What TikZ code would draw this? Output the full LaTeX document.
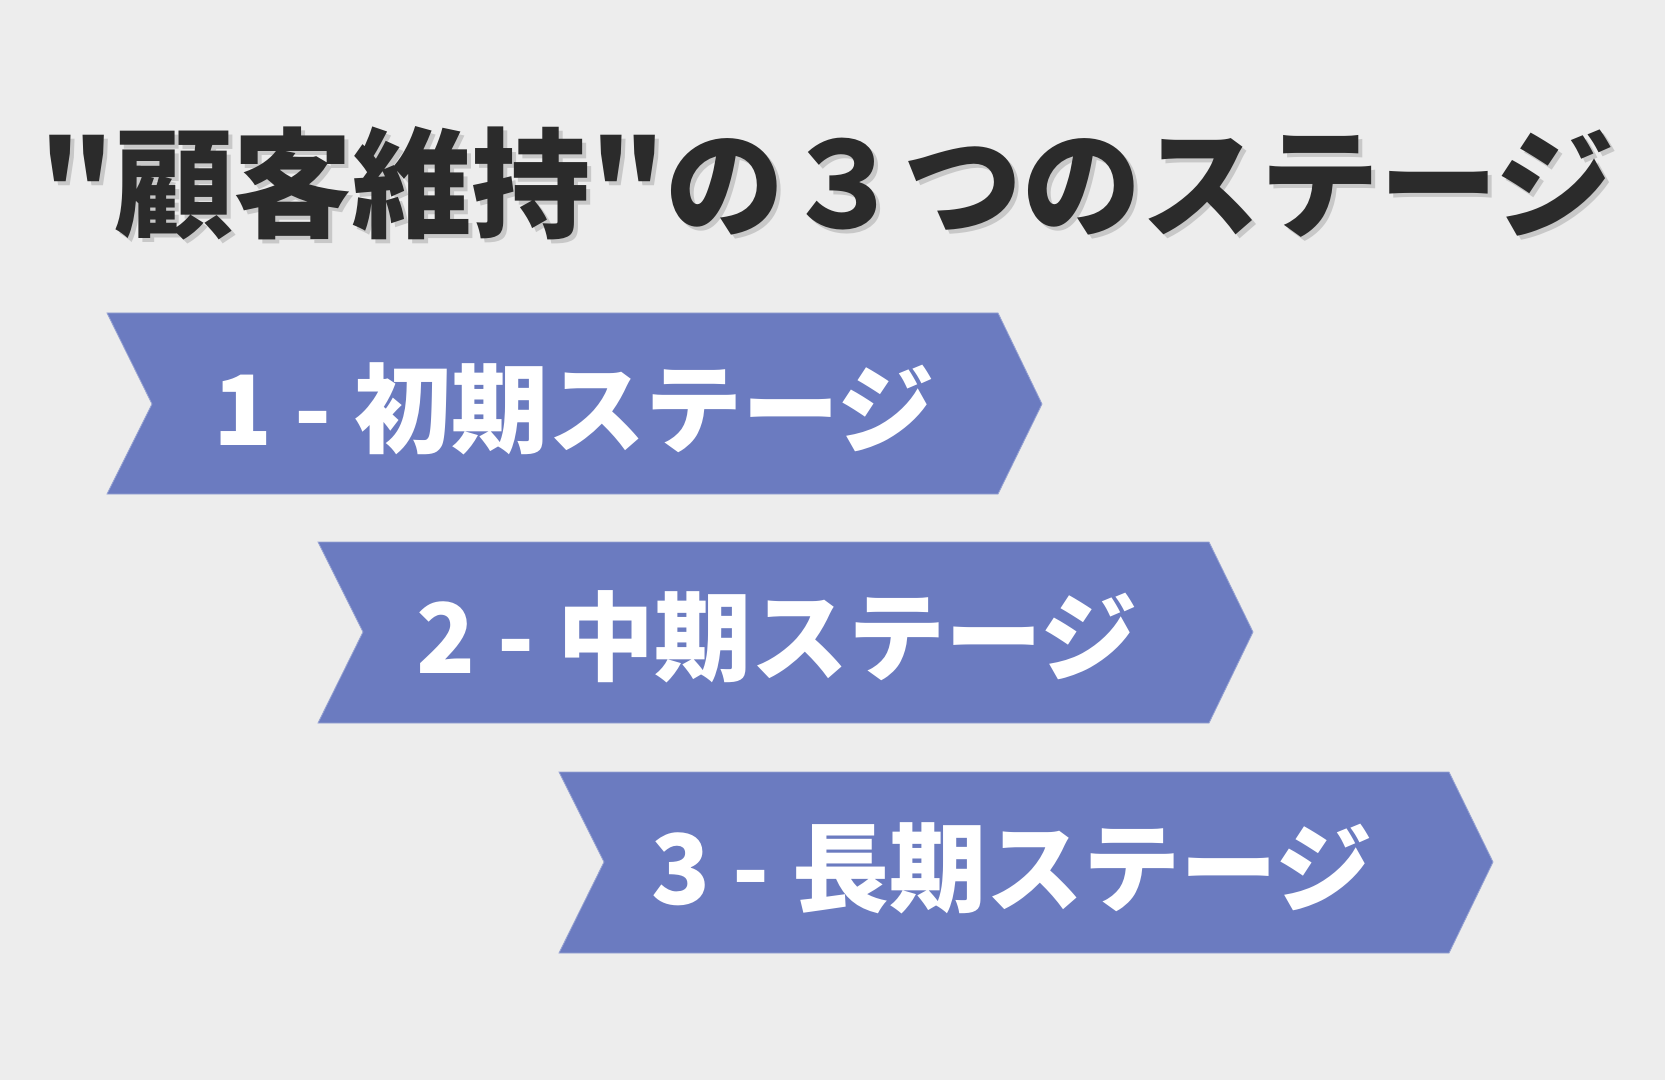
\documentclass[tikz,border=0pt]{standalone}
\usepackage{fontspec}
\newfontfamily\jp{Noto Sans CJK JP}
\definecolor{bgcol}{HTML}{EDEDED}
\definecolor{stagecol}{HTML}{6B7BC0}
\definecolor{titlecol}{HTML}{2B2B2B}
\definecolor{shadowcol}{HTML}{C8C8C8}
\tikzset{
  titletext/.style={inner sep=0pt, font=\jp\bfseries\fontsize{59.5}{60}\selectfont},
  stagetext/.style={inner sep=0pt, text=white, font=\jp\bfseries\fontsize{48.5}{49}\selectfont},
  stagebox/.style={fill=stagecol, draw=stagecol!70!white, line width=0.4pt}
}
\begin{document}
\begin{tikzpicture}[x=0.5pt,y=-0.5pt]
\fill [bgcol] (0,0) rectangle (1665,1080);
% title
\node [titletext, text=shadowcol] (titleshadow) at (831,187) {"顧客維持"の３つのステージ};
\node [titletext, text=titlecol] (title) at (827,183) {"顧客維持"の３つのステージ};
% stages
\filldraw [stagebox] (107,313) -- (998,313) -- (1042,404) -- (998,494) -- (107,494) -- (152,404) -- cycle;
\node [stagetext] (stage1) at (574,409) {1 - 初期ステージ};
\filldraw [stagebox] (318,542) -- (1209,542) -- (1253,632) -- (1209,723) -- (318,723) -- (363,632) -- cycle;
\node [stagetext] (stage2) at (777,637) {2 - 中期ステージ};
\filldraw [stagebox] (559,772) -- (1449,772) -- (1493,862) -- (1449,953) -- (559,953) -- (604,862) -- cycle;
\node [stagetext] (stage3) at (1012,868) {3 - 長期ステージ};
\end{tikzpicture}
\end{document}
